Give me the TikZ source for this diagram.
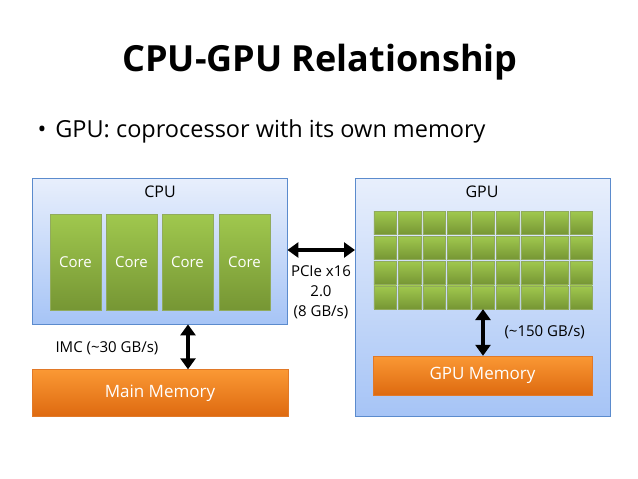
\documentclass[tikz,border=0pt]{standalone}
\usepackage{fontspec}
\setmainfont{Open Sans}
\usetikzlibrary{arrows.meta, positioning, calc}
\definecolor{cPanelTop}{RGB}{232,239,252}
\definecolor{cPanelBot}{RGB}{166,196,246}
\definecolor{cPanelLine}{RGB}{91,139,205}
\definecolor{cCoreTop}{RGB}{160,200,78}
\definecolor{cCoreBot}{RGB}{118,150,52}
\definecolor{cMemTop}{RGB}{250,152,52}
\definecolor{cMemBot}{RGB}{222,106,16}
\tikzset{
	panel/.style  ={rectangle, draw=cPanelLine, top color=cPanelTop, bottom color=cPanelBot, anchor=north west, inner sep=0pt},
	corebox/.style={rectangle, draw=cCoreBot!80, top color=cCoreTop, bottom color=cCoreBot, minimum width=50.5pt, minimum height=96pt, text=white, font=\fontsize{15}{18}\selectfont, inner sep=0pt},
	alu/.style    ={rectangle, draw=cCoreBot!80, top color=cCoreTop, bottom color=cCoreBot, minimum width=22.5pt, minimum height=23pt, inner sep=0pt},
	membox/.style ={rectangle, draw=cMemBot!90, top color=cMemTop, bottom color=cMemBot, text=white, font=\fontsize{17}{20}\selectfont, inner sep=0pt},
	bus/.style    ={{Triangle[length=11pt,width=15pt]}-{Triangle[length=11pt,width=15pt]}, line width=3.5pt},
	lbl/.style    ={font=\fontsize{15}{20}\selectfont, align=center},
}
\begin{document}
\begin{tikzpicture}[x=1pt, y=-1pt]
\useasboundingbox (0,0) rectangle (638,479);
% title and bullet
\node[font=\fontsize{36}{40}\selectfont\bfseries] (title) at (320,62) {CPU-GPU Relationship};
\node[font=\fontsize{23.5}{26}\selectfont, anchor=west] (bullet) at (34,131) {\textbullet\hspace{9pt}GPU: coprocessor with its own memory};
% CPU side
\node[panel, minimum width=255pt, minimum height=146pt] (cpu) at (32,178) {};
\node[lbl, font=\fontsize{16}{18}\selectfont] (cpulbl) at (160,192) {CPU};
\foreach \i/\x in {1/75.5, 2/131.5, 3/187.5, 4/244.5}
	\node[corebox] (core\i) at (\x,262) {Core};
\node[membox, minimum width=256pt, minimum height=47pt] (mainmem) at (160,393) {Main Memory};
\draw[bus] (cpu.south -| 188,0) coordinate (imcTop) -- (mainmem.north -| imcTop);
\node[lbl, anchor=west] (imc) at (52,348) {IMC (\textasciitilde 30 GB/s)};
% GPU side
\node[panel, minimum width=255pt, minimum height=238pt] (gpu) at (355,178) {};
\node[lbl, font=\fontsize{16}{18}\selectfont] (gpulbl) at (482,192) {GPU};
\foreach \r in {0,...,3}
	\foreach \c in {0,...,8}
		\node[alu] (alu\r\c) at ({385+\c*24.5},{223+\r*24.8}) {};
\node[membox, minimum width=219pt, minimum height=39pt] (gpumem) at (482.5,375.5) {GPU Memory};
\draw[bus] (alu34.south -| 483,0) coordinate (gTop) -- (gpumem.north -| gTop);
\node[lbl, anchor=west] (gbw) at (501,332) {(\textasciitilde 150 GB/s)};
% PCIe link
\draw[bus] (cpu.east |- 0,250) coordinate (pL) -- (gpu.west |- pL);
\node[lbl, anchor=north] (pcie) at (321,262) {PCIe x16\\2.0\\(8 GB/s)};
\end{tikzpicture}
\end{document}
